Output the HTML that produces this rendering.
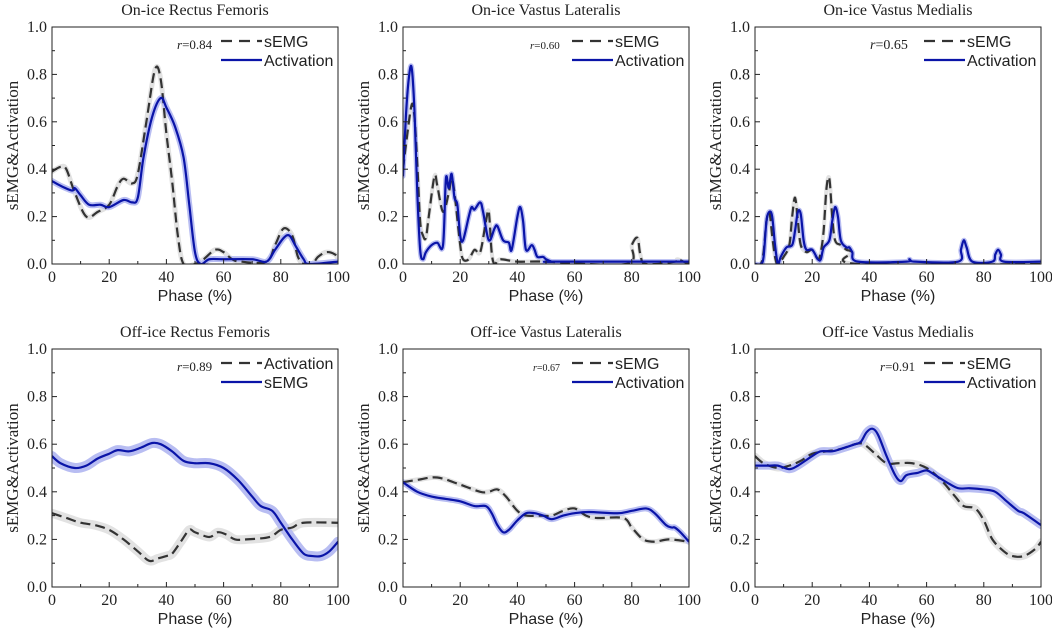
<!DOCTYPE html>
<html><head><meta charset="utf-8"><style>
body{margin:0;background:#fff}
svg{display:block}
.serif{font-family:"Liberation Serif",serif}
.sans{font-family:"Liberation Sans",sans-serif}
</style></head><body>
<svg id="c" width="1052" height="630" viewBox="0 0 1052 630"></svg>
<script>
const NS='http://www.w3.org/2000/svg';
const svg=document.getElementById('c');
const p1Dx=[0,3,5,8,12,16,20,23,25,28,30,33,36,38,40,42,44,46,50,53,57,60,63,66,75,78,81,84,86,88,91,93,96,99,100];
const p1Dy=[0.39,0.41,0.40,0.30,0.20,0.22,0.25,0.33,0.36,0.34,0.38,0.60,0.82,0.78,0.55,0.35,0.12,0.0,0.0,0.02,0.06,0.05,0.02,0.01,0.01,0.08,0.15,0.12,0.03,0.0,0.0,0.03,0.05,0.04,0.02];
const p1Sx=[0,3,7,8,10,13,17,20,25,28,30,32,35,38,40,43,46,48,50,52,55,60,70,75,78,81,83,85,88,90,100];
const p1Sy=[0.35,0.33,0.31,0.32,0.29,0.25,0.25,0.24,0.27,0.26,0.28,0.45,0.62,0.70,0.66,0.58,0.45,0.25,0.05,0.0,0.02,0.02,0.02,0.01,0.06,0.11,0.12,0.08,0.02,0.0,0.01];
const p2Dx=[0,1,3,4,5,6,7,8,9,11,12,14,16,17,18,20,21,23,25,27,29,30,31,32,34,40,50,78,80,82,83,85,95,96,100];
const p2Dy=[0.40,0.5,0.67,0.62,0.42,0.18,0.12,0.11,0.20,0.37,0.33,0.22,0.30,0.36,0.30,0.08,0.02,0.02,0.06,0.05,0.18,0.22,0.05,0.0,0.02,0.01,0.01,0.0,0.08,0.11,0.04,0.0,0.01,0.02,0.0];
const p2Sx=[0,1,2,3,4,5,6,7,8,10,12,14,15,16,17,18,19,20,21,23,24,25,27,28,30,32,33,35,37,38,40,41,42,43,45,46,47,49,50,52,53,100];
const p2Sy=[0.37,0.62,0.78,0.83,0.65,0.30,0.06,0.02,0.05,0.08,0.09,0.08,0.36,0.32,0.38,0.28,0.25,0.12,0.10,0.20,0.24,0.23,0.26,0.22,0.10,0.15,0.16,0.10,0.09,0.06,0.20,0.24,0.18,0.06,0.08,0.06,0.03,0.03,0.02,0.01,0.01,0.01];
const p3Dx=[0,2,3,4,5,6,7,8,10,12,13,14,15,16,18,20,22,23,24,25,26,27,28,30,32,34,36,100];
const p3Dy=[0,0,0.05,0.18,0.22,0.12,0.03,0.0,0.03,0.08,0.2,0.28,0.18,0.08,0.05,0.06,0.02,0.05,0.14,0.32,0.36,0.2,0.1,0.08,0.06,0.05,0.0,0.0];
const p3Sx=[0,2,3,4,5,6,7,8,9,11,13,14,15,16,17,18,20,22,23,24,26,27,28,29,30,32,33,34,36,53,54,56,71,72,73,74,76,83,84,85,86,87,100];
const p3Sy=[0,0,0.03,0.18,0.22,0.2,0.08,0.0,0.03,0.07,0.08,0.14,0.22,0.21,0.1,0.06,0.06,0.02,0.02,0.07,0.1,0.18,0.24,0.2,0.1,0.07,0.07,0.05,0.01,0.01,0.02,0.01,0.01,0.06,0.1,0.07,0.01,0.01,0.04,0.06,0.04,0.01,0.01];
const p4Dx=[0,5,10,15,20,25,30,34,37,40,42,45,48,50,55,58,61,64,68,76,80,84,88,100];
const p4Dy=[0.31,0.29,0.27,0.26,0.24,0.20,0.15,0.11,0.12,0.13,0.14,0.19,0.24,0.23,0.21,0.23,0.22,0.20,0.20,0.21,0.24,0.25,0.27,0.27];
const p4Sx=[0,3,8,12,16,20,23,27,31,35,38,42,46,50,55,60,65,70,73,77,80,84,88,91,94,97,100];
const p4Sy=[0.55,0.52,0.50,0.51,0.54,0.56,0.575,0.57,0.585,0.605,0.60,0.57,0.53,0.52,0.52,0.50,0.45,0.38,0.34,0.32,0.27,0.20,0.14,0.13,0.13,0.15,0.19];
const p5Dx=[0,5,12,20,27,30,33,36,40,43,48,52,56,60,64,68,77,80,84,88,93,100];
const p5Dy=[0.44,0.45,0.46,0.43,0.40,0.40,0.41,0.38,0.32,0.30,0.30,0.30,0.32,0.33,0.30,0.29,0.29,0.25,0.20,0.19,0.20,0.19];
const p5Sx=[0,5,10,15,20,25,29,31,33,35,37,40,43,46,49,52,56,60,65,75,80,85,88,92,94,95,97,100];
const p5Sy=[0.44,0.40,0.38,0.37,0.36,0.34,0.34,0.31,0.26,0.23,0.24,0.28,0.31,0.31,0.30,0.285,0.30,0.31,0.315,0.31,0.32,0.33,0.31,0.26,0.25,0.25,0.23,0.19];
const p6Dx=[0,3,8,12,16,20,25,30,35,38,42,46,50,55,60,65,70,73,77,80,83,87,90,94,98,100];
const p6Dy=[0.55,0.52,0.50,0.51,0.53,0.56,0.57,0.58,0.60,0.60,0.56,0.52,0.52,0.52,0.50,0.45,0.38,0.34,0.33,0.28,0.20,0.15,0.13,0.13,0.16,0.19];
const p6Sx=[0,5,8,12,15,20,23,27,30,35,37,39,41,43,46,49,51,53,57,60,63,67,71,75,80,84,88,92,94,100];
const p6Sy=[0.51,0.51,0.51,0.495,0.51,0.55,0.57,0.57,0.58,0.60,0.61,0.65,0.665,0.64,0.55,0.47,0.445,0.47,0.48,0.49,0.47,0.44,0.415,0.415,0.41,0.40,0.36,0.32,0.31,0.26];
const xTicks=[0,20,40,60,80,100];
const yTicks=[0,0.2,0.4,0.6,0.8,1.0];
const yTickLabels=['0.0','0.2','0.4','0.6','0.8','1.0'];

const panels=[
 {name:'on-ice-rectus-femoris',title:'On-ice Rectus Femoris',x0:52,x1:338,y0:27,y1:264,r:'0.84',rdx:125,rs:13,bw:5,leg:['sEMG','Activation'],dx:p1Dx,dy:p1Dy,sx:p1Sx,sy:p1Sy},
 {name:'on-ice-vastus-lateralis',title:'On-ice Vastus Lateralis',x0:403,x1:689,y0:27,y1:264,r:'0.60',rdx:127,rs:11,bw:4,leg:['sEMG','Activation'],dx:p2Dx,dy:p2Dy,sx:p2Sx,sy:p2Sy},
 {name:'on-ice-vastus-medialis',title:'On-ice Vastus Medialis',x0:755,x1:1041,y0:27,y1:264,r:'0.65',rdx:115,rs:14,bw:4,leg:['sEMG','Activation'],dx:p3Dx,dy:p3Dy,sx:p3Sx,sy:p3Sy},
 {name:'off-ice-rectus-femoris',title:'Off-ice Rectus Femoris',x0:52,x1:338,y0:349,y1:587,r:'0.89',rdx:125,rs:13,bw:9,leg:['Activation','sEMG'],dx:p4Dx,dy:p4Dy,sx:p4Sx,sy:p4Sy},
 {name:'off-ice-vastus-lateralis',title:'Off-ice Vastus Lateralis',x0:403,x1:689,y0:349,y1:587,r:'0.67',rdx:130,rs:10,bw:5,leg:['sEMG','Activation'],dx:p5Dx,dy:p5Dy,sx:p5Sx,sy:p5Sy},
 {name:'off-ice-vastus-medialis',title:'Off-ice Vastus Medialis',x0:755,x1:1041,y0:349,y1:587,r:'0.91',rdx:125,rs:13,bw:7,leg:['sEMG','Activation'],dx:p6Dx,dy:p6Dy,sx:p6Sx,sy:p6Sy}
];
function mk(tag,attrs,parent){const e=document.createElementNS(NS,tag);for(const k in attrs)e.setAttribute(k,attrs[k]);(parent||svg).appendChild(e);return e;}
function smooth(pts){let d='M'+pts[0][0].toFixed(2)+','+pts[0][1].toFixed(2);
 for(let i=0;i<pts.length-1;i++){const p0=pts[Math.max(0,i-1)],p1=pts[i],p2=pts[i+1],p3=pts[Math.min(pts.length-1,i+2)];
  const c1=[p1[0]+(p2[0]-p0[0])/6,p1[1]+(p2[1]-p0[1])/6],c2=[p2[0]-(p3[0]-p1[0])/6,p2[1]-(p3[1]-p1[1])/6];
  d+='C'+c1.map(v=>v.toFixed(2))+' '+c2.map(v=>v.toFixed(2))+' '+p2.map(v=>v.toFixed(2));}
 return d;}
panels.forEach(P=>{
 const X=v=>P.x0+(P.x1-P.x0)*v/100, Y=v=>P.y1-(P.y1-P.y0)*v;
 const g=mk('g',{});
 
 
 const clip=mk('clipPath',{id:'cl-'+P.name},g);mk('rect',{x:P.x0,y:P.y0,width:P.x1-P.x0,height:P.y1-P.y0},clip);
 const pg=mk('g',{'clip-path':'url(#cl-'+P.name+')'},g);
 function band(xs,ys,col,w,nm){const pts=xs.map((x,i)=>[X(x),Y(ys[i])]);
  const b=mk('path',{d:smooth(pts),fill:'none',stroke:col,'stroke-width':w,'stroke-linejoin':'round','stroke-linecap':'round'},pg);
  
  }
 band(P.dx,P.dy,'#e2e2e2',P.bw,'dashed-series-band');
 band(P.sx,P.sy,'#b8bdf2',P.bw+1,'solid-series-band');
 const dl=mk('path',{d:smooth(P.dx.map((x,i)=>[X(x),Y(P.dy[i])])),fill:'none',stroke:'#333','stroke-width':2.2,'stroke-dasharray':'10,5'},pg);
 
 
 const sl=mk('path',{d:smooth(P.sx.map((x,i)=>[X(x),Y(P.sy[i])])),fill:'none',stroke:'#0a14a8','stroke-width':2.2},pg);
 
 
 const fr=mk('rect',{x:P.x0,y:P.y0,width:P.x1-P.x0,height:P.y1-P.y0,fill:'none',stroke:'#222','stroke-width':1},g);
 
 
 for(let v=0;v<=100;v+=10){const L=v%20==0?5:3;mk('line',{x1:X(v),x2:X(v),y1:P.y1,y2:P.y1-L,stroke:'#222'},g);}
 for(let k=0;k<=10;k++){const L=k%2==0?5:3;mk('line',{x1:P.x0,x2:P.x0+L,y1:Y(k/10),y2:Y(k/10),stroke:'#222'},g);}
 xTicks.forEach(v=>{const t=mk('text',{x:X(v),y:P.y1+18,'text-anchor':'middle','font-size':16,class:'serif',fill:'#222'},g);t.textContent=v;
  
  });
 yTicks.forEach((v,i)=>{const t=mk('text',{x:P.x0-5,y:Y(v)+5,'text-anchor':'end','font-size':16,class:'serif',fill:'#222'},g);t.textContent=yTickLabels[i];
  
  });
 const cx=(P.x0+P.x1)/2, cy=(P.y0+P.y1)/2;
 const ti=mk('text',{x:cx,y:P.y0-12,'text-anchor':'middle','font-size':16,class:'serif',fill:'#222'},g);ti.textContent=P.title;
 
 
 const xt=mk('text',{x:cx,y:P.y1+37,'text-anchor':'middle','font-size':16,class:'sans',fill:'#222'},g);xt.textContent='Phase (%)';
 
 
 const yt=mk('text',{x:P.x0-34,y:cy,'text-anchor':'middle','font-size':17,class:'serif',fill:'#222',transform:`rotate(-90 ${P.x0-34} ${cy})`},g);yt.textContent='sEMG&Activation';
 
 
 const ly=P.y0+14;
 mk('line',{x1:P.x0+169,x2:P.x0+210,y1:ly,y2:ly,stroke:'#333','stroke-width':2.2,'stroke-dasharray':'11,7'},g);
 mk('line',{x1:P.x0+169,x2:P.x0+210,y1:ly+19,y2:ly+19,stroke:'#0a14a8','stroke-width':2.2},g);
 P.leg.forEach((s,i)=>{const t=mk('text',{x:P.x0+212,y:ly+6+19*i,'font-size':16,class:'sans',fill:'#222'},g);t.textContent=s;
  
  });
 const rt=mk('text',{x:P.x0+P.rdx,y:ly+8,'font-size':P.rs,class:'serif',fill:'#222'},g);
 rt.innerHTML='<tspan font-style="italic">r</tspan>='+P.r;
 
 
});
</script>
</body></html>
